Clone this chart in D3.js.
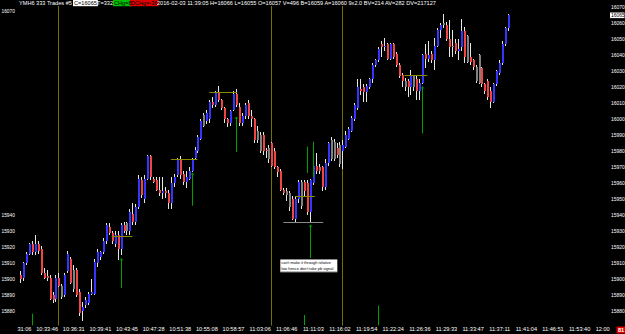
<!DOCTYPE html>
<html>
<head>
<meta charset="utf-8">
<script src="https://cdn.jsdelivr.net/npm/d3@7"></script>
<style>
html, body { margin: 0; padding: 0; background: #000; }
svg { display: block; font-family: "Liberation Sans", Arial, sans-serif; }
</style>
</head>
<body>
<svg id="chart" width="625" height="334"></svg>
<script>
// 333 trade bars, YMH6
const opens  = [15903,15901,15910,15916,15922,15917,15922,15919,15904,15902,15901,15890,15888,15901,15896,15890,15905,15913,15906,15906,
                15892,15880,15884,15885,15891,15891,15910,15914,15917,15924,15933,15929,15922,15928,15919,15934,15930,15930,15941,15936,
                15945,15962,15950,15963,15977,15963,15962,15956,15954,15955,15954,15948,15960,15965,15975,15966,15961,15963,15968,15976,
                15980,15988,15996,15999,16000,16011,16009,16017,16012,16007,16000,15998,16006,16016,16008,15998,16002,16010,16002,16000,
                15987,15990,15990,15981,15982,15985,15980,15970,15968,15956,15955,15954,15950,15938,15950,15961,15961,15960,15942,15960,
                15971,15970,15970,15958,15973,15987,15975,15982,15984,15980,15983,15988,15993,16000,16007,16019,16020,16017,16020,16025,
                16034,16037,16047,16045,16047,16038,16047,16041,16034,16028,16024,16024,16020,16027,16025,16018,16023,16041,16038,16041,
                16037,16046,16056,16059,16059,16050,16045,16048,16043,16045,16055,16052,16039,16037,16033,16040,16032,16022,16024,16018,
                16011,16022,16029,16035,16047,16057];
const highs  = [15905,15911,15917,15923,15924,15928,15924,15921,15907,15906,15903,15892,15903,15904,15897,15904,15918,15914,15909,15907,
                15894,15886,15889,15892,15900,15913,15919,15918,15926,15935,15935,15930,15930,15930,15935,15936,15936,15944,15948,15947,
                15965,15964,15965,15978,15978,15964,15964,15964,15964,15958,15956,15964,15966,15976,15977,15968,15968,15970,15976,15983,
                15990,16000,16004,16006,16012,16014,16018,16021,16013,16008,16001,16006,16018,16019,16010,16004,16010,16012,16006,16001,
                15996,15992,15992,15982,15984,15986,15982,15971,15969,15957,15957,15955,15952,15952,15962,15962,15962,15962,15963,15980,
                15979,15972,15971,15975,15986,15989,15988,15985,15986,15987,15993,15995,16002,16010,16025,16025,16022,16022,16026,16035,
                16038,16045,16049,16051,16048,16048,16048,16042,16035,16029,16026,16025,16031,16028,16027,16025,16041,16047,16049,16043,
                16051,16057,16060,16066,16061,16062,16056,16050,16050,16063,16058,16053,16048,16038,16034,16041,16033,16023,16025,16020,
                16023,16031,16037,16049,16058,16066];
const lows   = [15898,15899,15909,15915,15915,15915,15916,15903,15900,15899,15887,15885,15886,15895,15888,15889,15904,15897,15892,15889,
                15877,15874,15882,15884,15890,15890,15908,15912,15916,15922,15928,15922,15920,15912,15915,15929,15928,15928,15934,15934,
                15944,15951,15948,15962,15962,15960,15955,15952,15950,15951,15944,15944,15958,15964,15963,15959,15957,15962,15967,15975,
                15979,15987,15995,15997,15998,16007,16008,16011,16006,15998,15995,15996,16005,16008,15996,15996,16000,16000,15995,15985,
                15985,15979,15978,15976,15973,15970,15969,15964,15955,15953,15949,15943,15937,15936,15948,15944,15952,15940,15936,15959,
                15966,15966,15955,15956,15971,15974,15974,15976,15970,15969,15982,15987,15992,15999,16006,16015,16011,16011,16019,16023,
                16033,16036,16039,16043,16037,16037,16038,16033,16026,16020,16018,16014,16015,16018,16012,16012,16022,16032,16036,16035,
                16031,16045,16051,16057,16049,16039,16039,16041,16037,16043,16035,16035,16034,16031,16023,16022,16020,16016,16012,16007,
                16010,16021,16028,16034,16046,16055];
const closes = [15900,15910,15916,15922,15917,15922,15918,15904,15901,15901,15888,15887,15901,15896,15889,15903,15916,15898,15894,15890,
                15879,15883,15887,15891,15892,15911,15917,15917,15924,15934,15929,15924,15928,15919,15934,15930,15935,15942,15936,15945,
                15963,15953,15963,15977,15964,15961,15956,15954,15955,15954,15948,15960,15964,15975,15965,15961,15964,15968,15975,15981,
                15989,15999,16003,16004,16011,16009,16017,16012,16007,16000,15998,16005,16016,16009,15998,16002,16009,16002,16000,15987,
                15993,15980,15980,15980,15975,15971,15970,15967,15956,15954,15953,15945,15938,15950,15961,15946,15955,15942,15962,15971,
                15968,15968,15958,15973,15985,15975,15986,15978,15972,15984,15990,15994,16001,16009,16020,16018,16017,16021,16025,16034,
                16037,16044,16045,16046,16038,16047,16039,16034,16027,16024,16020,16020,16027,16020,16018,16023,16040,16038,16040,16037,
                16046,16056,16059,16060,16050,16045,16046,16043,16044,16055,16039,16036,16036,16033,16024,16023,16022,16018,16014,16011,
                16022,16030,16035,16047,16057,16065];
// bars drawn with a grey body
const grayBars = [14,18,36,62,80,81,84,90,91,95,105,106,108,130,133,143,146,151,154,155];

// time axis, one label every 9 bars
const timeLabels = ["10:31:06","10:33:46","10:36:31","10:39:41","10:43:45","10:47:28","10:51:38","10:55:08",
                    "10:58:57","11:03:06","11:06:46","11:11:03","11:16:02","11:19:54","11:22:24","11:26:36",
                    "11:29:33","11:33:47","11:37:11","11:41:04","11:46:51","11:53:40","12:00"];
const timeIdx = timeLabels.map((d, k) => k * 9);
const rightTicks = d3.range(15880, 16071, 10);
const leftTicks = d3.range(15880, 15941, 10);

// session separators (bar index)
const sepBars = [13, 85, 109];

// short horizontal levels
const levelPrice = [15927, 15975, 16017, 15952, 15936, 16028];
const levelFrom  = [31, 51, 64, 93, 89, 130];
const levelTo    = [38, 60, 73.4, 99.7, 102.5, 137.7];
const levelGrey  = [0, 0, 0, 0, 1, 0];

// green signal marks: bar, top price, bottom price, arrow head
const sigBar   = [4, 34, 58, 73, 96, 97, 98, 99, 121, 136];
const sigTop   = [15878.5, 15913, 15966.5, 16001.5, 15877.7, 15983, 15934, 15986, 15883.6, 16020.4];
const sigBot   = [15871, 15894.5, 15946, 15979.5, 15871, 15966.5, 15913.3, 15964, 15871, 15991.2];
const sigArrow = [0, 1, 1, 1, 0, 0, 1, 0, 0, 1];

const noteBar = 88, notePrice = 15912.4;
const noteLines = ["can't make it through relative", "low hence don't take pb signal"];

const header = [
  {t: "YMH6  333 Trades  #5", x: 19},
  {t: "C=16065", x: 74, bg: "#ffffff", fg: "#000"},
  {t: "T=332", x: 97},
  {t: "CHg=8", x: 114, bg: "#00c000", fg: "#000"},
  {t: "DCHg=-36", x: 131, bg: "#e00000", fg: "#000"},
  {t: "2016-02-03 11:39:05 H=16066 L=16055 O=16057 V=496 B=16059 A=16060 9x2.0 BV=214 AV=282 DV=217127", x: 157}
];

const svg = d3.select("#chart");
svg.append("rect").attr("width", 625).attr("height", 334).attr("fill", "#000");

const xScale = d3.scaleLinear().domain([0, 198]).range([20, 605.7]);
const yScale = d3.scaleLinear().domain([15880, 16070]).range([311.3, 7.3]);

const defs = svg.append("defs");
defs.append("clipPath").attr("id", "plotClip")
  .append("rect").attr("x", 16).attr("y", 6).attr("width", 590).attr("height", 319.5);
// local coords of the time axis group (it is translated to y=326)
defs.append("clipPath").attr("id", "axisClip")
  .append("rect").attr("x", 17).attr("y", -4).attr("width", 598).attr("height", 12);

const plot = svg.append("g").attr("clip-path", "url(#plotClip)");

// session lines
plot.append("g").selectAll("line").data(sepBars).enter().append("line")
  .attr("x1", d => Math.round(xScale(d)) + 0.5)
  .attr("x2", d => Math.round(xScale(d)) + 0.5)
  .attr("y1", 6).attr("y2", 326)
  .attr("stroke", "#727200").attr("stroke-width", 1);

// candles
const bars = opens.map((o, i) => ({
  i: i, o: o, h: highs[i], l: lows[i], c: closes[i], grey: grayBars.indexOf(i) >= 0
}));

const candle = plot.append("g").attr("shape-rendering", "crispEdges")
  .selectAll("g").data(bars).enter().append("g");

candle.append("line")
  .attr("x1", d => Math.round(xScale(d.i)) + 0.5)
  .attr("x2", d => Math.round(xScale(d.i)) + 0.5)
  .attr("y1", d => yScale(d.h))
  .attr("y2", d => yScale(d.l))
  .attr("stroke", "#e6e6e6").attr("stroke-width", 1);

candle.append("rect")
  .attr("x", d => Math.round(xScale(d.i)) - 0.5)
  .attr("width", 2)
  .attr("y", d => yScale(Math.max(d.o, d.c)))
  .attr("height", d => Math.max(1, yScale(Math.min(d.o, d.c)) - yScale(Math.max(d.o, d.c))))
  .attr("fill", d => d.grey ? "#808080" : (d.c >= d.o ? "#3535ff" : "#f04545"));

// levels
plot.append("g").selectAll("line").data(levelPrice).enter().append("line")
  .attr("x1", (d, k) => xScale(levelFrom[k]))
  .attr("x2", (d, k) => xScale(levelTo[k]))
  .attr("y1", d => Math.round(yScale(d)) + 0.5)
  .attr("y2", d => Math.round(yScale(d)) + 0.5)
  .attr("stroke", (d, k) => levelGrey[k] ? "#8a8a8a" : "#8a8a00")
  .attr("stroke-width", 1);

// green signals
const sig = plot.append("g").selectAll("g").data(sigBar).enter().append("g");
sig.append("line")
  .attr("x1", d => Math.round(xScale(d)) + 0.5)
  .attr("x2", d => Math.round(xScale(d)) + 0.5)
  .attr("y1", (d, k) => yScale(sigTop[k]))
  .attr("y2", (d, k) => yScale(sigBot[k]))
  .attr("stroke", "#00a000").attr("stroke-width", 1);
sig.filter((d, k) => sigArrow[k]).append("path")
  .attr("d", d => {
    const k = sigBar.indexOf(d);
    const cx = Math.round(xScale(d)) + 0.5, ty = yScale(sigTop[k]);
    return "M" + (cx - 1.5) + "," + (ty + 2) + "L" + cx + "," + ty + "L" + (cx + 1.5) + "," + (ty + 2);
  })
  .attr("fill", "none").attr("stroke", "#00a000").attr("stroke-width", 0.8);

// note box
const note = svg.append("g")
  .attr("transform", "translate(" + xScale(noteBar) + "," + yScale(notePrice) + ")");
note.append("rect").attr("width", 57).attr("height", 12.5).attr("fill", "#fff");
note.append("rect").attr("y", 12).attr("width", 57).attr("height", 1).attr("fill", "#888");
note.selectAll("text").data(noteLines).enter().append("text")
  .attr("x", 1).attr("y", (d, k) => 4.8 + k * 5.4)
  .attr("font-size", 3.9).attr("fill", "#000")
  .text(d => d);

// right price axis
const rAxis = svg.append("g").attr("transform", "translate(609,0)")
  .call(d3.axisRight(yScale).tickValues(rightTicks).tickSize(0).tickPadding(2).tickFormat(d3.format("d")));
rAxis.select(".domain").remove();
rAxis.selectAll("text").attr("fill", "#fff").attr("font-size", 5).attr("font-family", "Liberation Sans, Arial, sans-serif");

// last price tag
const last = closes[closes.length - 1];
svg.append("rect").attr("x", 610).attr("y", yScale(last) - 2.8).attr("width", 14.5).attr("height", 5.6).attr("fill", "#fff");
svg.append("text").attr("x", 611).attr("y", yScale(last)).attr("dy", "0.32em")
  .attr("font-size", 5).attr("fill", "#000").text(last);

// left price axis
const lAxis = svg.append("g").attr("transform", "translate(0,0)")
  .call(d3.axisRight(yScale).tickValues(leftTicks).tickSize(0).tickPadding(1.5).tickFormat(d3.format("d")));
lAxis.select(".domain").remove();
lAxis.selectAll("text").attr("fill", "#fff").attr("font-size", 4.8).attr("font-family", "Liberation Sans, Arial, sans-serif");
svg.append("text").attr("x", 1.5).attr("y", 12.5).attr("font-size", 4.8).attr("fill", "#fff").text("16070");

// time axis
const bAxis = svg.append("g").attr("transform", "translate(0,326)").attr("clip-path", "url(#axisClip)")
  .call(d3.axisBottom(xScale).tickValues(timeIdx).tickSize(0).tickPadding(1.5).tickFormat((d, k) => timeLabels[k]));
bAxis.select(".domain").remove();
bAxis.selectAll("text").attr("fill", "#fff").attr("font-size", 5.6).attr("font-family", "Liberation Sans, Arial, sans-serif");
bAxis.selectAll(".tick").filter(d => d === timeIdx[timeIdx.length - 1]).select("text").attr("dx", -3.5);

svg.append("rect").attr("x", 616.5).attr("y", 326.5).attr("width", 9).attr("height", 7).attr("fill", "#e00000");
svg.append("text").attr("x", 618).attr("y", 332).attr("font-size", 5.6).attr("font-weight", "bold").attr("fill", "#fff").text("81");

// header line
const hd = svg.append("g");
header.forEach(s => {
  const t = hd.append("text").attr("x", s.x).attr("y", 4.8)
    .attr("font-size", 5.6).attr("fill", s.fg || "#fff").text(s.t);
  if (s.bg) {
    const w = t.node().getComputedTextLength();
    hd.insert("rect", "text").attr("x", s.x - 1).attr("y", 0).attr("width", w + 2).attr("height", 6.2).attr("fill", s.bg);
  }
});
</script>
</body>
</html>
